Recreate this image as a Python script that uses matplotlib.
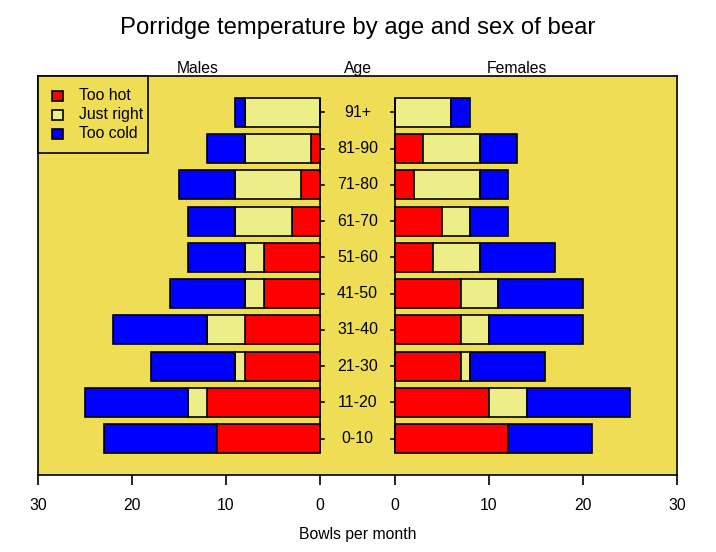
import matplotlib
matplotlib.use("Agg")
import matplotlib.pyplot as plt
from matplotlib.patches import Rectangle
import numpy as np

plt.rcParams['font.family'] = ['Liberation Sans', 'DejaVu Sans']

age_labels = ["0-10", "11-20", "21-30", "31-40", "41-50",
              "51-60", "61-70", "71-80", "81-90", "91+"]
series_names = ["Too hot", "Just right", "Too cold"]
male_hot = [11, 12, 8, 8, 6, 6, 3, 2, 1, 0]
male_right = [0, 2, 1, 4, 2, 2, 6, 7, 7, 8]
male_cold = [12, 11, 9, 10, 8, 6, 5, 6, 4, 1]
female_hot = [12, 10, 7, 7, 7, 4, 5, 2, 3, 0]
female_right = [0, 4, 1, 3, 4, 5, 3, 7, 6, 6]
female_cold = [9, 11, 8, 10, 9, 8, 4, 3, 4, 2]
axis_ticks = [0, 10, 20, 30]

colors = ["#ff0000", "#eeee88", "#0000ff"]
bg = "#eedd55"
gap = 4.0
xmax = 30
ypos = np.arange(1, len(age_labels) + 1)

fig = plt.figure(figsize=(7.16, 5.52), dpi=100)
W, H = 716, 552


def fx(px):
    return px / W


def fy(py):
    return (H - py) / H


ax = fig.add_axes([fx(38), fy(475), (677 - 38) / W, (475 - 76) / H])
ax.set_facecolor(bg)
ax.set_xlim(-(xmax + gap), xmax + gap)
ax.set_ylim(0, len(age_labels) + 1)

lw = 1.2
males = [male_hot, male_right, male_cold]
females = [female_hot, female_right, female_cold]
mleft = np.zeros(len(age_labels))
fleft = np.zeros(len(age_labels))
for vals, c in zip(males, colors):
    v = np.array(vals, dtype=float)
    ax.barh(ypos, -v, left=-gap - mleft, height=0.8, color=c,
            edgecolor='black', linewidth=lw, zorder=3)
    mleft += v
for vals, c in zip(females, colors):
    v = np.array(vals, dtype=float)
    ax.barh(ypos, v, left=gap + fleft, height=0.8, color=c,
            edgecolor='black', linewidth=lw, zorder=3)
    fleft += v

# centre axis lines and small ticks
ax.vlines([-gap, gap], ypos[0] - 0.4, ypos[-1] + 0.4, color='black',
          linewidth=lw, zorder=4)
tl = 0.45
for y in ypos:
    ax.plot([-gap, -gap + tl], [y, y], color='black', linewidth=lw, zorder=4)
    ax.plot([gap - tl, gap], [y, y], color='black', linewidth=lw, zorder=4)

for y, lab in zip(ypos, age_labels):
    ax.text(0, y, lab, ha='center', va='center', fontsize=11.5, zorder=5)

# x ticks
ticks = [-(gap + t) for t in axis_ticks] + [gap + t for t in axis_ticks]
ticklabels = [str(t) for t in axis_ticks] + [str(t) for t in axis_ticks]
ax.set_xticks(ticks)
ax.set_xticklabels(ticklabels, fontsize=11.3)
ax.tick_params(axis='x', length=7, width=lw, pad=9.5)
ax.set_yticks([])
for s in ax.spines.values():
    s.set_linewidth(lw)

# top labels
ax.text(-(gap + 13), 11.2, "Males", ha='center', va='center',
        fontsize=11.3, clip_on=False)
ax.text(0, 11.2, "Age", ha='center', va='center', fontsize=11.3,
        clip_on=False)
ax.text(gap + 13, 11.2, "Females", ha='center', va='center',
        fontsize=11.3, clip_on=False)

fig.text(fx(358), fy(28),
         "Porridge temperature by age and sex of bear",
         ha='center', va='center', fontsize=17.2)
fig.text(fx(358), fy(534), "Bowls per month",
         ha='center', va='center', fontsize=11.3)

# legend drawn like R's legend()
fig.patches.append(Rectangle((fx(38), fy(153)), (148 - 38) / W,
                             (153 - 76) / H, transform=fig.transFigure,
                             facecolor=bg, edgecolor='black', linewidth=lw,
                             zorder=5))
row_y = [96, 115, 134]
for ry, c, name in zip(row_y, colors, series_names):
    fig.patches.append(Rectangle((fx(52), fy(ry + 5)), 11 / W, 10 / H,
                                 transform=fig.transFigure, facecolor=c,
                                 edgecolor='black', linewidth=lw, zorder=6))
    fig.text(fx(79), fy(ry), name, ha='left', va='center', fontsize=11.3,
             zorder=7)

fig.savefig("out.png", dpi=100)
